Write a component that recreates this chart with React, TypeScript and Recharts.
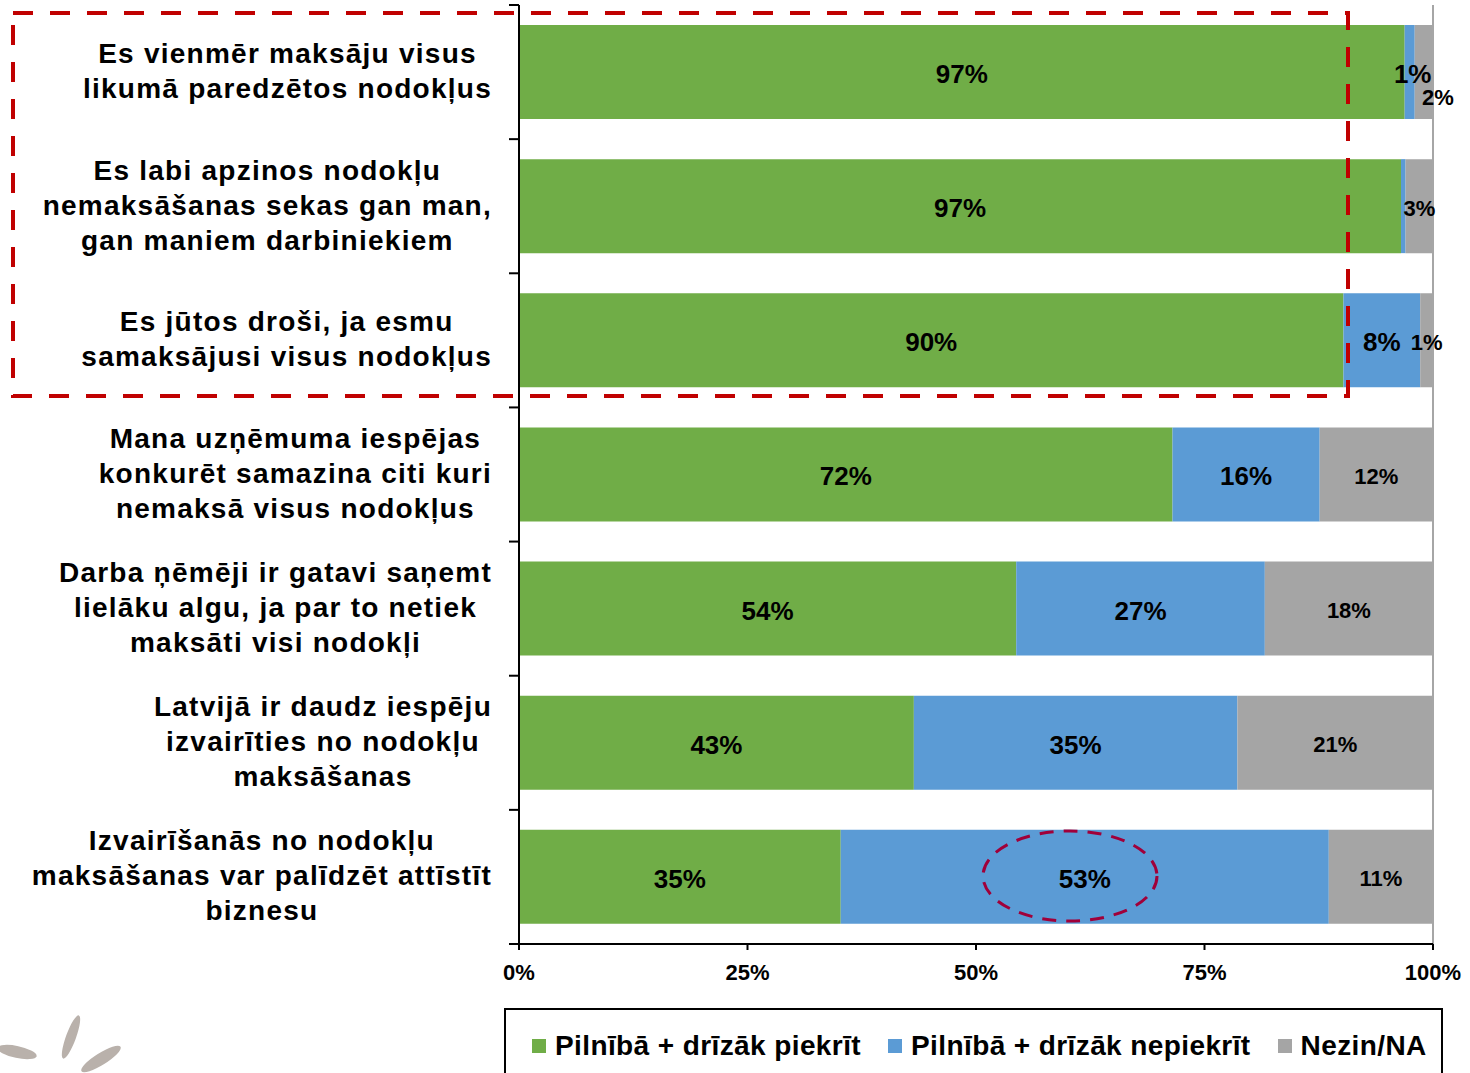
import React from "react";
import { Bar, BarChart, LabelList, ReferenceLine, XAxis, YAxis } from "recharts";

const categories = [
  "Es vienmēr maksāju visus\nlikumā paredzētos nodokļus",
  "Es labi apzinos nodokļu\nnemaksāšanas sekas gan man,\ngan maniem darbiniekiem",
  "Es jūtos droši, ja esmu\nsamaksājusi visus nodokļus",
  "Mana uzņēmuma iespējas\nkonkurēt samazina citi kuri\nnemaksā visus nodokļus",
  "Darba ņēmēji ir gatavi saņemt\nlielāku algu, ja par to netiek\nmaksāti visi nodokļi",
  "Latvijā ir daudz iespēju\nizvairīties no nodokļu\nmaksāšanas",
  "Izvairīšanās no nodokļu\nmaksāšanas var palīdzēt attīstīt\nbiznesu",
];
const agree = [96.9, 96.5, 90.2, 71.5, 54.4, 43.2, 35.2];
const disagree = [1.1, 0.5, 8.4, 16.1, 27.2, 35.4, 53.4];
const unknown = [2.0, 3.0, 1.4, 12.4, 18.4, 21.4, 11.4];
const seriesNames = ["Pilnībā + drīzāk piekrīt", "Pilnībā + drīzāk nepiekrīt", "Nezin/NA"];
const xTicks = [0, 25, 50, 75, 100];

const COLORS = ["#70AD47", "#5B9BD5", "#A5A5A5"];
const FONT = "'Liberation Sans', Arial, sans-serif";
const PLOT_TOP = 5;
const PLOT_BOTTOM = 944;
const BAND = (PLOT_BOTTOM - PLOT_TOP) / categories.length;
const CAT_SPACING = 1.25;

const data = categories.map((name, i) => ({
  name,
  agree: agree[i],
  disagree: disagree[i],
  unknown: unknown[i],
}));

let ctx: CanvasRenderingContext2D | null = null;
function textWidth(s: string, font: string) {
  if (!ctx) ctx = document.createElement("canvas").getContext("2d");
  if (!ctx) return s.length * 14;
  ctx.font = font;
  return ctx.measureText(s).width;
}

function CategoryTick(props: any) {
  const y = Number(props.y ?? 0);
  const lines = String(props.payload?.value ?? "").split("\n");
  const maxW = Math.max(
    ...lines.map((l) => textWidth(l, `bold 28px ${FONT}`) + l.length * CAT_SPACING)
  );
  const cx = 492 - maxW / 2;
  const lh = 35;
  const top = y - 1 - ((lines.length - 1) * lh) / 2;
  const half = BAND / 2;
  return (
    <g>
      {lines.map((ln, i) => (
        <text
          key={i}
          x={cx}
          y={top + i * lh}
          textAnchor="middle"
          dominantBaseline="central"
          fontSize={28}
          fontWeight="bold"
          letterSpacing={CAT_SPACING}
          fill="#000"
        >
          {ln}
        </text>
      ))}
      <line x1={509} x2={519} y1={y + half} y2={y + half} stroke="#000" strokeWidth={2} />
      {props.index === 0 && (
        <line x1={509} x2={519} y1={y - half} y2={y - half} stroke="#000" strokeWidth={2} />
      )}
    </g>
  );
}

function segmentLabel(series: number) {
  return (props: any) => {
    const x = Number(props.x ?? 0);
    const y = Number(props.y ?? 0);
    const w = Number(props.width ?? 0);
    const h = Number(props.height ?? 0);
    const v = Number(props.value ?? 0);
    const idx = Number(props.index ?? 0);
    if (v < 1) return null;
    let cx = x + w / 2;
    let cy = y + h / 2 + 2;
    // first row: thin slices, labels nudged like in the source
    if (idx === 0 && series === 1) cx += 3;
    if (idx === 0 && series === 2) {
      cx += 14;
      cy += 23;
    }
    return (
      <text
        x={cx}
        y={cy}
        textAnchor="middle"
        dominantBaseline="central"
        fontSize={series === 2 ? 22 : 26}
        fontWeight="bold"
        fill="#000"
      >
        {`${Math.round(v)}%`}
      </text>
    );
  };
}

function Logo() {
  return (
    <g fill="#b9b1ab">
      <ellipse cx={17} cy={1052} rx={20} ry={6} transform="rotate(12 17 1052)" />
      <ellipse cx={71} cy={1037} rx={23} ry={5} transform="rotate(-70 71 1037)" />
      <ellipse cx={101} cy={1059} rx={23} ry={6} transform="rotate(-32 101 1059)" />
    </g>
  );
}

export default function App() {
  return (
    <div
      style={{
        position: "absolute",
        left: 0,
        top: 0,
        width: 1470,
        height: 1073,
        overflow: "hidden",
        background: "#fff",
        fontFamily: FONT,
      }}
    >
      <BarChart
        width={1470}
        height={1000}
        data={data}
        layout="vertical"
        margin={{ top: PLOT_TOP, right: 37, bottom: 0, left: 0 }}
        barCategoryGap={20}
      >
        <XAxis
          type="number"
          domain={[0, 100]}
          ticks={xTicks}
          height={1000 - PLOT_BOTTOM}
          tickFormatter={(v) => `${v}%`}
          tick={{ fontSize: 22, fontWeight: "bold", fill: "#000" }}
          tickSize={6}
          tickMargin={14}
          axisLine={{ stroke: "#000", strokeWidth: 2 }}
          tickLine={{ stroke: "#000", strokeWidth: 2 }}
        />
        <XAxis
          xAxisId="top"
          type="number"
          domain={[0, 100]}
          orientation="top"
          height={0}
          tick={false}
          tickLine={false}
          axisLine={{ stroke: "#a6a6a6", strokeWidth: 2 }}
        />
        <YAxis
          type="category"
          dataKey="name"
          width={519}
          interval={0}
          tickLine={false}
          axisLine={{ stroke: "#000", strokeWidth: 2 }}
          tick={(p: any) => <CategoryTick {...p} />}
        />
        <ReferenceLine x={100} stroke="#a6a6a6" strokeWidth={2} />
        <Bar dataKey="agree" stackId="s" fill={COLORS[0]} isAnimationActive={false}>
          <LabelList dataKey="agree" content={segmentLabel(0)} />
        </Bar>
        <Bar dataKey="disagree" stackId="s" fill={COLORS[1]} isAnimationActive={false}>
          <LabelList dataKey="disagree" content={segmentLabel(1)} />
        </Bar>
        <Bar dataKey="unknown" stackId="s" fill={COLORS[2]} isAnimationActive={false}>
          <LabelList dataKey="unknown" content={segmentLabel(2)} />
        </Bar>
      </BarChart>

      <svg
        width={1470}
        height={1073}
        style={{ position: "absolute", left: 0, top: 0, pointerEvents: "none" }}
      >
        <rect
          x={13}
          y={13}
          width={1335}
          height={383}
          fill="none"
          stroke="#C00000"
          strokeWidth={4}
          strokeDasharray="20 17"
        />
        <ellipse
          cx={1070}
          cy={876}
          rx={87}
          ry={45}
          fill="none"
          stroke="#A0003A"
          strokeWidth={3}
          strokeDasharray="14 10"
        />
        <Logo />
      </svg>

      <div
        style={{
          position: "absolute",
          left: 504,
          top: 1008,
          width: 939,
          height: 100,
          border: "2px solid #000",
          boxSizing: "border-box",
          display: "flex",
          alignItems: "flex-start",
          paddingLeft: 26,
          paddingTop: 21,
          gap: 27,
        }}
      >
        {seriesNames.map((n, i) => (
          <div key={n} style={{ display: "flex", alignItems: "center", gap: 9 }}>
            <span style={{ width: 14, height: 14, background: COLORS[i], display: "inline-block" }} />
            <span
              style={{
                fontSize: 28,
                fontWeight: "bold",
                lineHeight: "30px",
                letterSpacing: 0.4,
                color: "#000",
              }}
            >
              {n}
            </span>
          </div>
        ))}
      </div>
    </div>
  );
}
